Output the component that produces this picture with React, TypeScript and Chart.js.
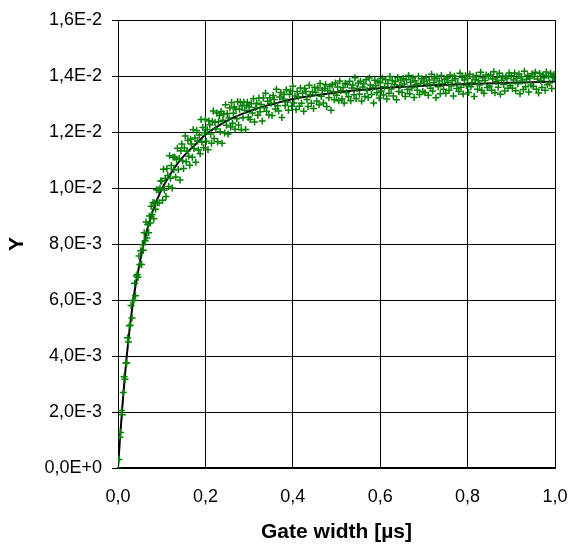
import React, { useEffect, useRef } from "react";
import { Chart, registerables } from "chart.js";
Chart.register(...registerables);

// Measured points: gate width [µs] and Y
const gateWidthA = [
  0, 0.002, 0.004, 0.006, 0.008, 0.01, 0.012, 0.014, 0.016, 0.018,
  0.02, 0.022, 0.024, 0.026, 0.028, 0.03, 0.032, 0.034, 0.036, 0.038,
  0.04, 0.042, 0.044, 0.046, 0.048, 0.05, 0.052, 0.054, 0.056, 0.058,
  0.06, 0.062, 0.064, 0.066, 0.068, 0.07, 0.072, 0.074, 0.076, 0.078,
  0.08, 0.082, 0.084, 0.086, 0.088, 0.09, 0.092, 0.094, 0.096, 0.098,
];
const yA = [
  0, 0.0003, 0.0011, 0.00127, 0.00205, 0.0019, 0.0027, 0.00326, 0.00317, 0.00375,
  0.00375, 0.00465, 0.0045, 0.00508, 0.0051, 0.0058, 0.00536, 0.00598, 0.00598, 0.0066,
  0.00615, 0.00686, 0.00691, 0.00681, 0.00757, 0.00727, 0.00776, 0.00727, 0.00797, 0.00778,
  0.0084, 0.00812, 0.00879, 0.00821, 0.0087, 0.0084, 0.009, 0.00875, 0.00935, 0.00905,
  0.00948, 0.0089, 0.00946, 0.00924, 0.00994, 0.00948, 0.00993, 0.00946, 0.00999, 0.01025,
];

const gateWidthB = [
  0.1, 0.102, 0.104, 0.106, 0.108, 0.11, 0.112, 0.114, 0.116, 0.118,
  0.12, 0.122, 0.124, 0.126, 0.128, 0.13, 0.132, 0.134, 0.136, 0.138,
  0.14, 0.142, 0.144, 0.146, 0.148, 0.15, 0.152, 0.154, 0.156, 0.158,
  0.16, 0.162, 0.164, 0.166, 0.168, 0.17, 0.172, 0.174, 0.176, 0.178,
  0.18, 0.182, 0.184, 0.186, 0.188, 0.19, 0.192, 0.194, 0.196, 0.198,
  0.2, 0.202, 0.204, 0.206, 0.208, 0.21, 0.212, 0.214, 0.216, 0.218,
  0.22, 0.222, 0.224, 0.226, 0.228, 0.23, 0.232, 0.234, 0.236, 0.238,
  0.24, 0.242, 0.244, 0.246, 0.248, 0.25, 0.252, 0.254, 0.256, 0.258,
  0.26, 0.262, 0.264, 0.266, 0.268, 0.27, 0.272, 0.274, 0.276, 0.278,
  0.28, 0.282, 0.284, 0.286, 0.288, 0.29, 0.292, 0.294, 0.296, 0.298,
];
const yB = [
  0.01025, 0.00956, 0.01067, 0.00993, 0.01034, 0.0097, 0.0107, 0.01045, 0.01005, 0.01115,
  0.01035, 0.0108, 0.01, 0.0111, 0.01065, 0.0111, 0.01039, 0.01103, 0.01142, 0.01066,
  0.01105, 0.01029, 0.01133, 0.01157, 0.01096, 0.0107, 0.01143, 0.01186, 0.01094, 0.01132,
  0.0117, 0.01113, 0.01081, 0.01174, 0.01157, 0.0111, 0.01208, 0.01141, 0.01179, 0.01092,
  0.01205, 0.01168, 0.01136, 0.01189, 0.01122, 0.01245, 0.01163, 0.01216, 0.01144, 0.01197,
  0.01245, 0.01167, 0.01209, 0.01137, 0.01239, 0.01226, 0.01193, 0.0116, 0.01238, 0.01275,
  0.01177, 0.01234, 0.01211, 0.01268, 0.01165, 0.01237, 0.01259, 0.01201, 0.01273, 0.0116,
  0.01242, 0.01264, 0.01196, 0.01297, 0.01224, 0.01266, 0.01193, 0.0125, 0.01286, 0.01218,
  0.01305, 0.01231, 0.01267, 0.01289, 0.0121, 0.01281, 0.01247, 0.01308, 0.01225, 0.01281,
  0.01307, 0.01208, 0.01294, 0.01251, 0.01307, 0.01278, 0.01209, 0.01295, 0.01306, 0.01253,
];

const gateWidthC = [
  0.3, 0.3025, 0.305, 0.3075, 0.31, 0.3125, 0.315, 0.3175, 0.32, 0.3225, 0.325, 0.3275, 0.33, 0.3325, 0.335, 0.3375, 0.34, 0.3425, 0.345, 0.3475,
  0.35, 0.3525, 0.355, 0.3575, 0.36, 0.3625, 0.365, 0.3675, 0.37, 0.3725, 0.375, 0.3775, 0.38, 0.3825, 0.385, 0.3875, 0.39, 0.3925, 0.395, 0.3975,
  0.4, 0.4025, 0.405, 0.4075, 0.41, 0.4125, 0.415, 0.4175, 0.42, 0.4225, 0.425, 0.4275, 0.43, 0.4325, 0.435, 0.4375, 0.44, 0.4425, 0.445, 0.4475,
  0.45, 0.4525, 0.455, 0.4575, 0.46, 0.4625, 0.465, 0.4675, 0.47, 0.4725, 0.475, 0.4775, 0.48, 0.4825, 0.485, 0.4875, 0.49, 0.4925, 0.495, 0.4975,
  0.5, 0.5025, 0.505, 0.5075, 0.51, 0.5125, 0.515, 0.5175, 0.52, 0.5225, 0.525, 0.5275, 0.53, 0.5325, 0.535, 0.5375, 0.54, 0.5425, 0.545, 0.5475,
  0.55, 0.5525, 0.555, 0.5575, 0.56, 0.5625, 0.565, 0.5675, 0.57, 0.5725, 0.575, 0.5775, 0.58, 0.5825, 0.585, 0.5875, 0.59, 0.5925, 0.595, 0.5975,
  0.6, 0.6025, 0.605, 0.6075, 0.61, 0.6125, 0.615, 0.6175, 0.62, 0.6225, 0.625, 0.6275, 0.63, 0.6325, 0.635, 0.6375, 0.64, 0.6425, 0.645, 0.6475,
  0.65, 0.6525, 0.655, 0.6575, 0.66, 0.6625, 0.665, 0.6675, 0.67, 0.6725, 0.675, 0.6775, 0.68, 0.6825, 0.685, 0.6875, 0.69, 0.6925, 0.695, 0.6975,
  0.7, 0.7025, 0.705, 0.7075, 0.71, 0.7125, 0.715, 0.7175, 0.72, 0.7225, 0.725, 0.7275, 0.73, 0.7325, 0.735, 0.7375, 0.74, 0.7425, 0.745, 0.7475,
  0.75, 0.7525, 0.755, 0.7575, 0.76, 0.7625, 0.765, 0.7675, 0.77, 0.7725, 0.775, 0.7775, 0.78, 0.7825, 0.785, 0.7875, 0.79, 0.7925, 0.795, 0.7975,
  0.8, 0.8025, 0.805, 0.8075, 0.81, 0.8125, 0.815, 0.8175, 0.82, 0.8225, 0.825, 0.8275, 0.83, 0.8325, 0.835, 0.8375, 0.84, 0.8425, 0.845, 0.8475,
  0.85, 0.8525, 0.855, 0.8575, 0.86, 0.8625, 0.865, 0.8675, 0.87, 0.8725, 0.875, 0.8775, 0.88, 0.8825, 0.885, 0.8875, 0.89, 0.8925, 0.895, 0.8975,
  0.9, 0.9025, 0.905, 0.9075, 0.91, 0.9125, 0.915, 0.9175, 0.92, 0.9225, 0.925, 0.9275, 0.93, 0.9325, 0.935, 0.9375, 0.94, 0.9425, 0.945, 0.9475,
  0.95, 0.9525, 0.955, 0.9575, 0.96, 0.9625, 0.965, 0.9675, 0.97, 0.9725, 0.975, 0.9775, 0.98, 0.9825, 0.985, 0.9875, 0.99, 0.9925, 0.995, 0.9975,
  1.0,
];
const yC = [
  0.01289, 0.01245, 0.01301, 0.01268, 0.01319, 0.01236, 0.01287, 0.01303, 0.0126, 0.01321, 0.01272, 0.01298, 0.01239, 0.01321, 0.01287, 0.01338, 0.01274, 0.0131, 0.01261, 0.01322,
  0.01303, 0.01259, 0.0133, 0.01316, 0.01282, 0.01353, 0.01294, 0.01275, 0.01325, 0.01341, 0.01252, 0.01318, 0.01334, 0.01295, 0.01351, 0.01307, 0.01278, 0.01335, 0.01346, 0.01292,
  0.01363, 0.01304, 0.01329, 0.0128, 0.01345, 0.01326, 0.01292, 0.01357, 0.01303, 0.01338, 0.01274, 0.01355, 0.01345, 0.01316, 0.01291, 0.01367, 0.01333, 0.01303, 0.01344, 0.01284,
  0.0136, 0.01341, 0.01311, 0.01357, 0.01297, 0.01373, 0.01328, 0.01349, 0.01304, 0.01355, 0.0137, 0.01291, 0.01347, 0.01322, 0.01363, 0.01278, 0.01369, 0.01344, 0.01315, 0.01375,
  0.01331, 0.01361, 0.01312, 0.01382, 0.01348, 0.01318, 0.01359, 0.01304, 0.01374, 0.0134, 0.0137, 0.01326, 0.01381, 0.01312, 0.01357, 0.01368, 0.01333, 0.01394, 0.01319, 0.01355,
  0.01375, 0.01335, 0.01381, 0.01311, 0.01361, 0.01372, 0.01327, 0.01387, 0.01348, 0.01323, 0.01393, 0.01368, 0.01334, 0.01359, 0.01304, 0.01385, 0.01365, 0.0134, 0.01381, 0.01321,
  0.01376, 0.01346, 0.01392, 0.01332, 0.01362, 0.01387, 0.01318, 0.01373, 0.01338, 0.01398, 0.01354, 0.01384, 0.01329, 0.01369, 0.0138, 0.01315, 0.01395, 0.01345, 0.01366, 0.01386,
  0.01341, 0.01391, 0.01371, 0.01327, 0.01387, 0.01352, 0.01402, 0.01337, 0.01378, 0.01358, 0.01393, 0.01323, 0.01383, 0.01369, 0.01349, 0.01399, 0.01334, 0.01374, 0.0139, 0.01345,
  0.0138, 0.0134, 0.01395, 0.01371, 0.01331, 0.01386, 0.01356, 0.01406, 0.01346, 0.01376, 0.01392, 0.01322, 0.01397, 0.01362, 0.01382, 0.01337, 0.01402, 0.01373, 0.01353, 0.01388,
  0.01338, 0.01393, 0.01378, 0.01349, 0.01404, 0.01364, 0.01384, 0.01329, 0.01399, 0.0139, 0.01355, 0.01375, 0.01345, 0.0141, 0.0136, 0.01395, 0.01336, 0.01386, 0.01401, 0.01366,
  0.01391, 0.01341, 0.01406, 0.01362, 0.01377, 0.01397, 0.01327, 0.01387, 0.01402, 0.01353, 0.01383, 0.01368, 0.01413, 0.01348, 0.01393, 0.01338, 0.01384, 0.01404, 0.01359, 0.01399,
  0.01364, 0.01404, 0.01349, 0.01389, 0.01415, 0.0134, 0.0138, 0.01395, 0.0136, 0.0141, 0.01335, 0.01385, 0.014, 0.0137, 0.01346, 0.01396, 0.01391, 0.01356, 0.01411, 0.01366,
  0.01401, 0.01356, 0.01386, 0.01411, 0.01347, 0.01392, 0.01372, 0.01407, 0.01337, 0.01397, 0.01382, 0.01352, 0.01417, 0.01362, 0.01388, 0.01403, 0.01343, 0.01393, 0.01368, 0.01408,
  0.01363, 0.01398, 0.01413, 0.01353, 0.01389, 0.01339, 0.01409, 0.01384, 0.01359, 0.01404, 0.01394, 0.01349, 0.01414, 0.01369, 0.014, 0.01375, 0.0141, 0.01355, 0.01395, 0.01405,
  0.0139,
];

// Fitted curve
const fitGateWidth = [
  0, 0.005, 0.01, 0.015, 0.02, 0.025, 0.03, 0.035, 0.04, 0.05, 0.06, 0.07, 0.08, 0.09, 0.1,
  0.12, 0.14, 0.16, 0.18, 0.2, 0.24, 0.28, 0.32, 0.36, 0.4, 0.5, 0.6, 0.7, 0.8, 0.9, 1.0,
];
const fitY = [
  0, 0.00115, 0.0022, 0.00315, 0.004, 0.00475, 0.0054, 0.006, 0.0065, 0.00735, 0.0081, 0.0087, 0.0092, 0.0096, 0.00995,
  0.0105, 0.01095, 0.0113, 0.0116, 0.0119, 0.01232, 0.01262, 0.01285, 0.01302, 0.01318, 0.01341, 0.01356, 0.01365, 0.01371, 0.01376, 0.0138,
];

const xTickValues = [0, 0.2, 0.4, 0.6, 0.8, 1.0];
const yTickValues = [0, 0.002, 0.004, 0.006, 0.008, 0.01, 0.012, 0.014, 0.016];

const FAMILY = "'Liberation Sans', Arial, sans-serif";

export default function App() {
  const ref = useRef<HTMLCanvasElement>(null);

  useEffect(() => {
    const xs = [...gateWidthA, ...gateWidthB, ...gateWidthC];
    const ys = [...yA, ...yB, ...yC];
    const points = xs.map((x, i) => ({ x, y: ys[i] }));
    const fit = fitGateWidth.map((x, i) => ({ x, y: fitY[i] }));

    const fmtY = (v: number) =>
      Number(v).toExponential(1).replace(".", ",").replace("e", "E");
    const fmtX = (v: number) => Number(v).toFixed(1).replace(".", ",");

    const zeroPad = (s: any) => {
      s.paddingLeft = 0;
      s.paddingRight = 0;
      s.paddingTop = 0;
      s.paddingBottom = 0;
    };

    const chart = new Chart(ref.current!, {
      type: "scatter",
      data: {
        datasets: [
          {
            type: "scatter",
            data: points,
            pointStyle: "cross",
            pointRadius: 3.5,
            pointHoverRadius: 3.5,
            borderColor: "#008000",
            backgroundColor: "#008000",
            borderWidth: 1.5,
            order: 0,
          } as any,
          {
            type: "line",
            data: fit,
            borderColor: "#000000",
            borderWidth: 2,
            pointRadius: 0,
            showLine: true,
            fill: false,
            cubicInterpolationMode: "monotone",
            order: 1,
          } as any,
        ],
      },
      options: {
        responsive: false,
        animation: false,
        devicePixelRatio: 1,
        events: [],
        layout: { padding: { left: 0, right: 14, top: 20, bottom: 0 } },
        plugins: { legend: { display: false }, tooltip: { enabled: false } },
        scales: {
          x: {
            type: "linear",
            min: 0,
            max: 1,
            afterBuildTicks: (s: any) => {
              s.ticks = xTickValues.map((v) => ({ value: v }));
            },
            ticks: {
              padding: 18,
              color: "#000",
              font: { family: FAMILY, size: 18 },
              callback: (v: any) => fmtX(v),
              maxRotation: 0,
            },
            grid: { color: "#000", lineWidth: 1, drawTicks: false },
            border: { color: "#000", width: 2 },
            title: {
              display: true,
              text: "Gate width [µs]",
              color: "#000",
              font: { family: FAMILY, size: 21, weight: "bold" },
              padding: { top: 0, bottom: 3 },
            },
            afterFit: (s: any) => {
              s.height = 80;
              zeroPad(s);
            },
          },
          y: {
            type: "linear",
            min: 0,
            max: 0.016,
            afterBuildTicks: (s: any) => {
              s.ticks = yTickValues.map((v) => ({ value: v }));
            },
            ticks: {
              padding: 10,
              color: "#000",
              font: { family: FAMILY, size: 18 },
              callback: (v: any) => fmtY(v),
            },
            grid: { color: "#000", lineWidth: 1, drawTicks: true, tickLength: 6 },
            border: { color: "#000", width: 1 },
            title: {
              display: true,
              text: "Y",
              color: "#000",
              font: { family: FAMILY, size: 21, weight: "bold" },
              padding: { top: 5, bottom: 0 },
            },
            afterFit: (s: any) => {
              s.width = 118;
              zeroPad(s);
            },
          },
        },
      } as any,
    });
    return () => chart.destroy();
  }, []);

  return (
    <div style={{ position: "absolute", left: 0, top: 0, width: 569, height: 548, background: "#fff" }}>
      <canvas ref={ref} width={569} height={548} style={{ display: "block" }} />
    </div>
  );
}
